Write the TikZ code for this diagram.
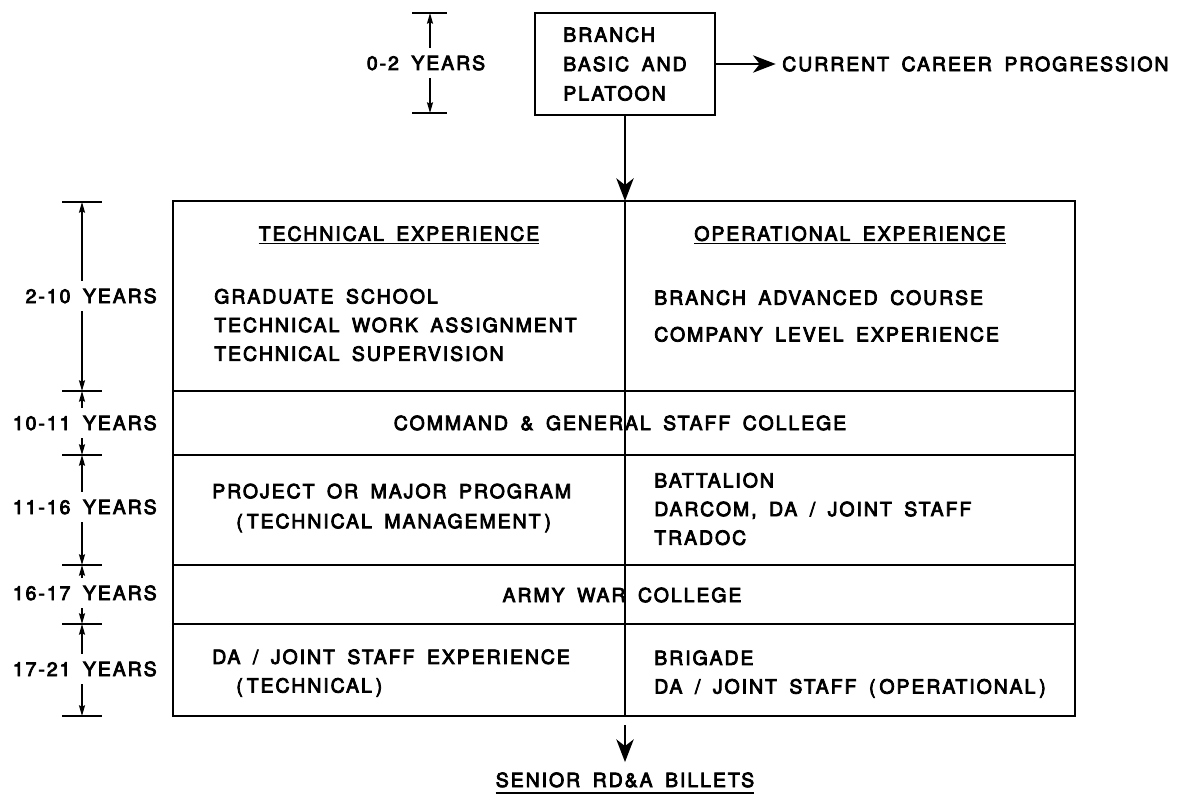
\documentclass[tikz,border=0pt]{standalone}
\usepackage{fontspec}
\setmainfont{TeX Gyre Heros}[LetterSpace=10,WordSpace=1.7,FakeBold=4]
\usetikzlibrary{arrows.meta}

\tikzset{
  lbl/.style={inner sep=0.75pt, align=left},
  yrs/.style={anchor=east, inner xsep=0pt, inner ysep=6pt, text height=10.5pt, text depth=0pt},
  dimline/.style={line width=0.9pt, -{Stealth[length=8pt,width=4.5pt,inset=1pt]}},
  flow/.style={line width=1.6pt, -{Stealth[length=17pt,width=13pt,inset=5pt]}},
  tick/.style={line width=1.2pt},
  frame/.style={line width=1.5pt},
  billets/.style={text height=10.5pt, text depth=0pt, inner xsep=0pt, inner ysep=4.5pt},
}
\newcommand{\pgap}{\hspace{3pt}}

\begin{document}
\begin{tikzpicture}[x=0.75pt,y=0.75pt,yscale=-1,xscale=1,font=\fontsize{14.6pt}{21.5pt}\selectfont]
\useasboundingbox (0,0) rectangle (1180,795);

%Shape: Rectangle
	\node[draw, frame, lbl, minimum width=135pt, minimum height=76.5pt] (branch) at (625,64) {BRANCH\\[0.5pt]BASIC AND\\[0.5pt]PLATOON};
% Text Node
	\node[lbl, anchor=west] (current) at (781,64) {CURRENT CAREER PROGRESSION};
%Straight Lines
	\draw[flow, shorten >=4pt] (branch.east) -- (current.west);

%Shape: Rectangle
	\draw[frame] (173,201) rectangle (1075,716);
%Straight Lines
	\draw[frame] (173,391) -- (1075,391);
	\draw[frame] (173,455) -- (1075,455);
	\draw[frame] (173,565) -- (1075,565);
	\draw[frame] (173,624) -- (1075,624);
	\draw[line width=1.1pt] (625,201) -- (625,716);
	\coordinate (tabtop) at (625,201);
	\coordinate (tabbot) at (625,725);
	\draw[flow] (branch.south) -- (tabtop);

% Text Node
	\node[lbl] (techhead) at (399,235) {\underline{TECHNICAL EXPERIENCE}};
% Text Node
	\node[lbl] (ophead) at (850,235) {\underline{OPERATIONAL EXPERIENCE}};
% Text Node
	\node[lbl, anchor=west] (techlist) at (213,325) {GRADUATE SCHOOL\\TECHNICAL WORK ASSIGNMENT\\TECHNICAL SUPERVISION};
% Text Node
	\node[lbl, anchor=west] (oplist) at (653,316) {BRANCH ADVANCED COURSE\\[6pt]COMPANY LEVEL EXPERIENCE};
% Text Node
	\node[lbl] (cgsc) at (620,423) {COMMAND \& GENERAL STAFF COLLEGE};
% Text Node
	\node[lbl, anchor=west] (pm) at (211,508) {PROJECT OR MAJOR PROGRAM\\[1pt]\hspace*{18pt}(\pgap TECHNICAL MANAGEMENT\pgap)};
% Text Node
	\node[lbl, anchor=west] (bn) at (653,509) {BATTALION\\DARCOM, DA / JOINT STAFF\\TRADOC};
% Text Node
	\node[lbl] (awc) at (622,595) {ARMY WAR COLLEGE};
% Text Node
	\node[lbl, anchor=west] (dajs) at (211,673) {DA / JOINT STAFF EXPERIENCE\\\hspace*{18pt}(\pgap TECHNICAL\pgap)};
% Text Node
	\node[lbl, anchor=west] (bde) at (653,674) {BRIGADE\\DA / JOINT STAFF (\pgap OPERATIONAL\pgap)};
% Text Node
	\node[billets] (senior) at (625,780) {SENIOR RD\&A BILLETS};
	\draw[line width=1.8pt] (senior.south west) -- (senior.south east);
	\draw[flow, shorten >=3.5pt] (tabbot) -- (senior.north);

%Dimension 0-2
	\coordinate (d0a) at (430,13);
	\coordinate (d0b) at (430,113);
	\draw[tick] (412,13) -- (447,13);
	\draw[tick] (412,113) -- (447,113);
	\node[yrs, anchor=center] (yrs02) at (426,63) {0-2 YEARS};
	\draw[dimline] (yrs02.north -| d0a) -- (d0a);
	\draw[dimline] (yrs02.south -| d0b) -- (d0b);

%Dimension ticks
	\coordinate (d1) at (82,202);
	\coordinate (d2) at (82,391);
	\coordinate (d3) at (82,455);
	\coordinate (d4) at (82,565);
	\coordinate (d5) at (82,624);
	\coordinate (d6) at (82,716);
	\foreach \t in {d1,d2,d3,d4,d5,d6}
		\draw[tick] ([xshift=-15pt]\t) -- ([xshift=15pt]\t);

% Text Node
	\node[yrs] (yrs210) at (157,296) {2-10 YEARS};
	\draw[dimline] (yrs210.north -| d1) -- (d1);
	\draw[dimline] (yrs210.south -| d2) -- (d2);
% Text Node
	\node[yrs] (yrs1011) at (157,423) {10-11 YEARS};
	\draw[dimline] (yrs1011.north -| d2) -- (d2);
	\draw[dimline] (yrs1011.south -| d3) -- (d3);
% Text Node
	\node[yrs] (yrs1116) at (157,507) {11-16 YEARS};
	\draw[dimline] (yrs1116.north -| d3) -- (d3);
	\draw[dimline] (yrs1116.south -| d4) -- (d4);
% Text Node
	\node[yrs] (yrs1617) at (157,593) {16-17 YEARS};
	\draw[dimline] (yrs1617.north -| d4) -- (d4);
	\draw[dimline] (yrs1617.south -| d5) -- (d5);
% Text Node
	\node[yrs] (yrs1721) at (157,669) {17-21 YEARS};
	\draw[dimline] (yrs1721.north -| d5) -- (d5);
	\draw[dimline] (yrs1721.south -| d6) -- (d6);

\end{tikzpicture}
\end{document}
